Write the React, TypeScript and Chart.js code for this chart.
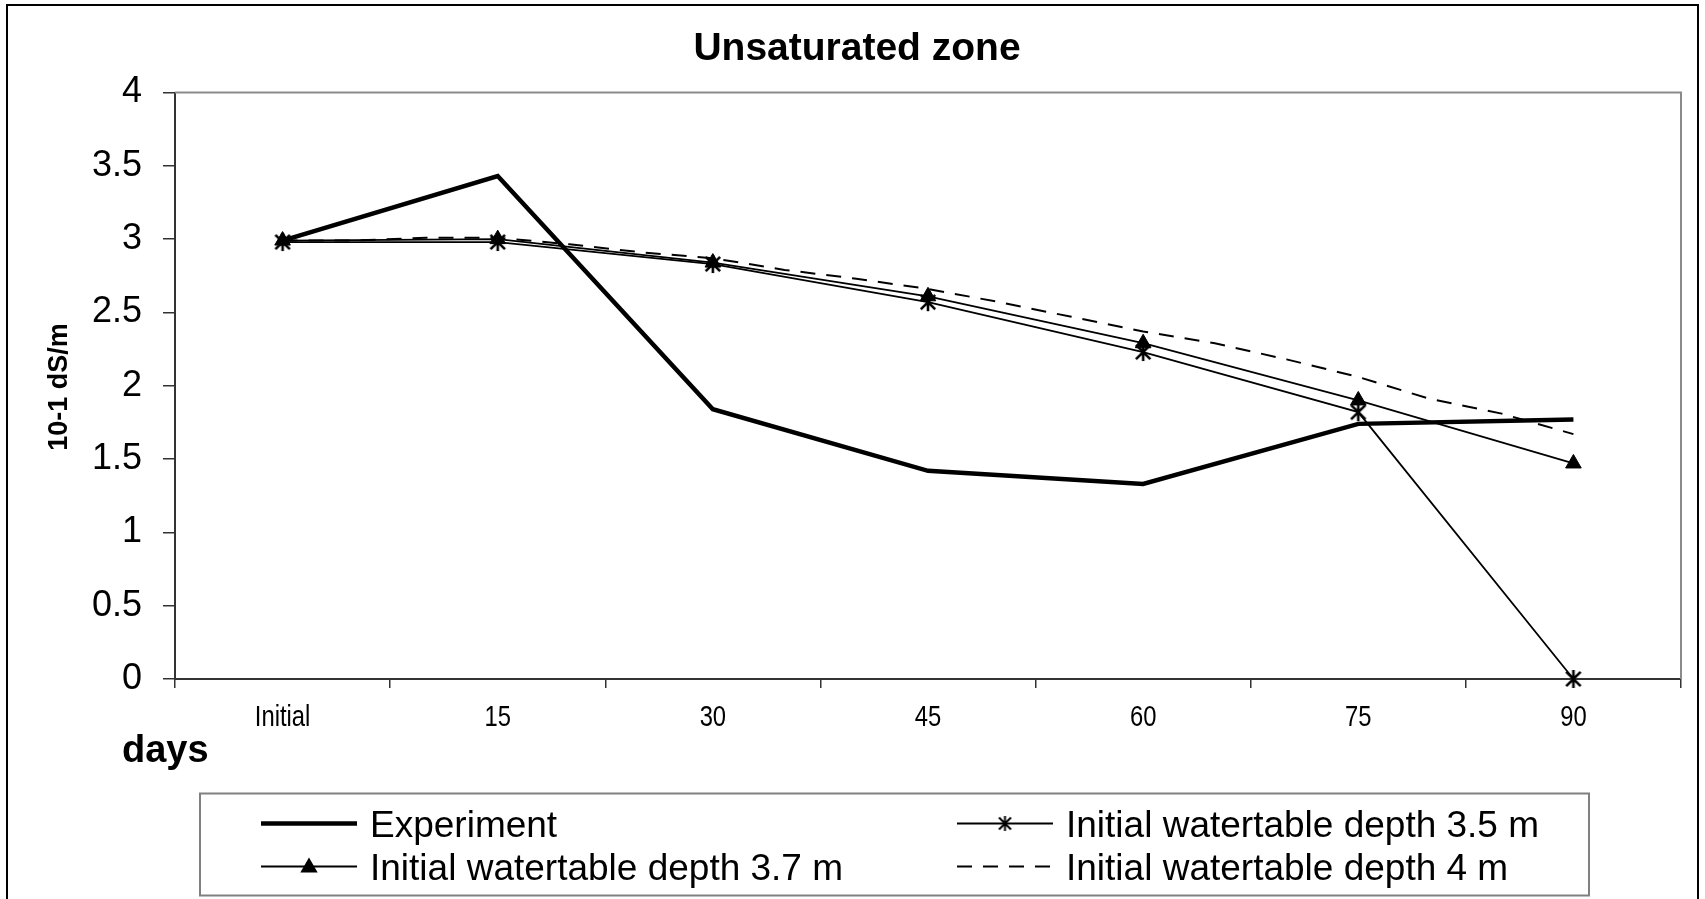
import React, { useEffect, useRef } from 'react';
import { Chart, registerables } from 'chart.js';

Chart.register(...registerables);

// ---- data ----
const categories = ['Initial', '15', '30', '45', '60', '75', '90'];
const experiment = [2.99, 3.43, 1.84, 1.42, 1.33, 1.74, 1.77];
const depth35 = [2.98, 2.98, 2.83, 2.57, 2.23, 1.82, 0];
const depth37 = [2.99, 3.0, 2.84, 2.61, 2.29, 1.9, 1.47];
const depth4Days = [0, 5, 10, 15, 20, 25, 30, 35, 40, 45, 50, 55, 60, 65, 70, 75, 80, 85, 90];
const depth4Values = [2.99, 2.99, 3.01, 3.01, 2.965, 2.91, 2.87, 2.79, 2.73, 2.66, 2.57, 2.47, 2.37, 2.29, 2.18, 2.06, 1.91, 1.81, 1.67];
const seriesNames = [
  'Experiment',
  'Initial watertable depth 3.5 m',
  'Initial watertable depth 3.7 m',
  'Initial watertable depth 4 m',
];
const yMin = 0;
const yMax = 4;
const yStep = 0.5;
const titleText = 'Unsaturated zone';
const xTitleText = 'days';
const yTitleText = '10-1 dS/m';

const FONT = "'Liberation Sans', Arial, sans-serif";

function makeStar(size: number, lw: number): HTMLCanvasElement {
  const c = document.createElement('canvas');
  c.width = size;
  c.height = size;
  const g = c.getContext('2d')!;
  g.strokeStyle = '#000';
  g.lineWidth = lw;
  const m = size / 2;
  const r = size / 2 - 1;
  const d = r * 0.8;
  g.beginPath();
  g.moveTo(m, m - r);
  g.lineTo(m, m + r);
  g.moveTo(m - d, m - d);
  g.lineTo(m + d, m + d);
  g.moveTo(m - d, m + d);
  g.lineTo(m + d, m - d);
  g.stroke();
  return c;
}

function drawTriangle(ctx: CanvasRenderingContext2D, x: number, y: number, r: number) {
  ctx.beginPath();
  for (let k = 0; k < 3; k++) {
    const a = (k * 2 * Math.PI) / 3;
    const px = x + Math.sin(a) * r;
    const py = y - Math.cos(a) * r;
    if (k === 0) ctx.moveTo(px, py);
    else ctx.lineTo(px, py);
  }
  ctx.closePath();
  ctx.fillStyle = '#000';
  ctx.fill();
}

export default function App() {
  const ref = useRef<HTMLCanvasElement | null>(null);

  useEffect(() => {
    document.body.style.margin = '0';
    const canvas = ref.current!;
    const star = makeStar(20, 2.6);
    const legendStar = makeStar(17, 2);

    const decorations = {
      id: 'decorations',
      beforeDraw(chart: any) {
        const ctx = chart.ctx as CanvasRenderingContext2D;
        ctx.save();
        ctx.fillStyle = '#fff';
        ctx.fillRect(0, 0, chart.width, chart.height);
        ctx.strokeStyle = '#000';
        ctx.lineWidth = 2;
        ctx.strokeRect(7, 5, 1691, 920);
        ctx.restore();
      },
      beforeDatasetsDraw(chart: any) {
        const ctx = chart.ctx as CanvasRenderingContext2D;
        const a = chart.chartArea;
        ctx.save();
        ctx.strokeStyle = '#8a8a8a';
        ctx.lineWidth = 2;
        ctx.beginPath();
        ctx.moveTo(a.left, a.top);
        ctx.lineTo(a.right, a.top);
        ctx.lineTo(a.right, a.bottom);
        ctx.stroke();
        ctx.restore();
      },
      afterDraw(chart: any) {
        const ctx = chart.ctx as CanvasRenderingContext2D;
        const xs = chart.scales.x;
        ctx.save();
        ctx.fillStyle = '#000';

        // title
        ctx.font = `bold 39px ${FONT}`;
        ctx.textAlign = 'center';
        ctx.textBaseline = 'alphabetic';
        ctx.fillText(titleText, 857, 60);

        // x tick labels (narrow face)
        ctx.font = `29px ${FONT}`;
        categories.forEach((lab, i) => {
          const px = xs.getPixelForValue(i);
          ctx.save();
          ctx.translate(px, 726);
          ctx.scale(0.82, 1);
          ctx.textAlign = 'center';
          ctx.fillText(lab, 0, 0);
          ctx.restore();
        });

        // x title
        ctx.font = `bold 38px ${FONT}`;
        ctx.textAlign = 'left';
        ctx.fillText(xTitleText, 122, 762);

        // y title
        ctx.save();
        ctx.translate(66.5, 387);
        ctx.rotate(-Math.PI / 2);
        ctx.font = `bold 27px ${FONT}`;
        ctx.textAlign = 'center';
        ctx.fillText(yTitleText, 0, 0);
        ctx.restore();

        // legend
        ctx.strokeStyle = '#808080';
        ctx.lineWidth = 2;
        ctx.strokeRect(200, 793.5, 1389, 102);
        const cols = [261, 957];
        const rows = [823.5, 866.5];
        const slots = [
          [0, 0],
          [1, 0],
          [0, 1],
          [1, 1],
        ];
        chart.data.datasets.forEach((ds: any, i: number) => {
          const x0 = cols[slots[i][0]];
          const y0 = rows[slots[i][1]];
          ctx.save();
          ctx.strokeStyle = ds.borderColor;
          ctx.lineWidth = ds.borderWidth;
          ctx.setLineDash(ds.borderDash || []);
          ctx.beginPath();
          ctx.moveTo(x0, y0);
          ctx.lineTo(x0 + 96, y0);
          ctx.stroke();
          ctx.setLineDash([]);
          if (ds.pointStyle === 'triangle') drawTriangle(ctx, x0 + 48, y0 + 1, 10);
          else if (ds.pointStyle instanceof HTMLCanvasElement)
            ctx.drawImage(legendStar, x0 + 48 - 8.5, y0 - 8.5);
          ctx.fillStyle = '#000';
          ctx.font = `37px ${FONT}`;
          ctx.textAlign = 'left';
          ctx.textBaseline = 'alphabetic';
          ctx.fillText(seriesNames[i], x0 + 109, y0 + 13);
          ctx.restore();
        });
        ctx.restore();
      },
    };

    const chart = new Chart(canvas, {
      type: 'line',
      data: {
        labels: categories,
        datasets: [
          {
            label: seriesNames[0],
            data: experiment,
            xAxisID: 'x',
            borderColor: '#000',
            borderWidth: 4.5,
            pointRadius: 0,
            tension: 0,
            clip: false as any,
          },
          {
            label: seriesNames[1],
            data: depth35,
            xAxisID: 'x',
            borderColor: '#000',
            borderWidth: 1.8,
            pointStyle: star as any,
            pointRadius: 10,
            tension: 0,
            clip: false as any,
          },
          {
            label: seriesNames[2],
            data: depth37,
            xAxisID: 'x',
            borderColor: '#000',
            borderWidth: 1.8,
            pointStyle: 'triangle',
            pointRadius: 9,
            pointBackgroundColor: '#000',
            pointBorderColor: '#000',
            pointBorderWidth: 1,
            tension: 0,
            clip: false as any,
          },
          {
            label: seriesNames[3],
            data: depth4Days.map((d, i) => ({ x: d, y: depth4Values[i] })) as any,
            xAxisID: 'x2',
            borderColor: '#000',
            borderWidth: 2,
            borderDash: [15, 11],
            pointRadius: 0,
            tension: 0,
            clip: false as any,
          },
        ],
      },
      options: {
        responsive: false,
        animation: false,
        events: [],
        layout: { padding: { left: 0, top: 92.5, right: 24, bottom: 0 } },
        plugins: {
          legend: { display: false },
          title: { display: false },
          tooltip: { enabled: false },
        },
        scales: {
          x: {
            type: 'category',
            position: 'bottom',
            offset: true,
            grid: {
              offset: true,
              drawOnChartArea: false,
              drawTicks: true,
              tickLength: 9,
              color: '#333',
              lineWidth: 1.5,
            },
            border: { display: true, color: '#333', width: 2 },
            ticks: { display: false },
            afterFit: (s: any) => {
              s.height = 220;
            },
          },
          x2: {
            type: 'linear',
            position: 'bottom',
            display: false,
            min: -7.5,
            max: 97.5,
          },
          y: {
            type: 'linear',
            min: yMin,
            max: yMax,
            ticks: {
              stepSize: yStep,
              color: '#000',
              padding: 21,
              font: { family: FONT, size: 36 },
              callback: (v: any) => String(Number(v)),
            },
            grid: {
              drawOnChartArea: false,
              drawTicks: true,
              tickLength: 12,
              color: '#333',
              lineWidth: 1.5,
            },
            border: { display: true, color: '#333', width: 2 },
            afterFit: (s: any) => {
              s.width = 175;
            },
          },
        },
      },
      plugins: [decorations],
    });

    return () => chart.destroy();
  }, []);

  return (
    <div style={{ width: 1705, height: 899, position: 'relative' }}>
      <canvas ref={ref} width={1705} height={899} style={{ display: 'block', width: 1705, height: 899 }} />
    </div>
  );
}
